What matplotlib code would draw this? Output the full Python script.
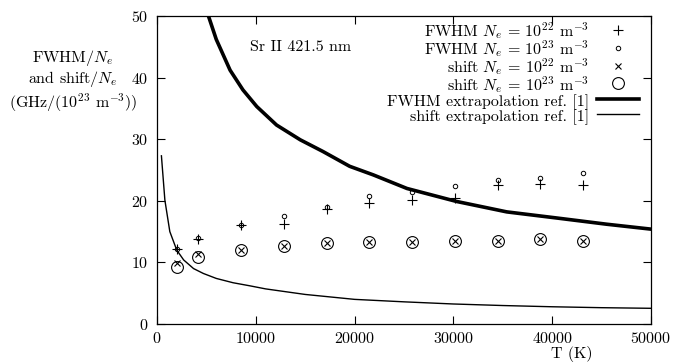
"""Sr II 421.5 nm — FWHM y shift vs T (estilo gnuplot/LaTeX)."""

import matplotlib
matplotlib.use("Agg")
import matplotlib.pyplot as plt

plt.rcParams["font.family"] = ["cmr10", "DejaVu Serif"]
plt.rcParams["mathtext.fontset"] = "cm"
plt.rcParams["axes.formatter.use_mathtext"] = True
plt.rcParams["font.size"] = 11.5

# puntos calculados
T_pts = [2000, 4200, 8500, 12900, 17200, 21500, 25800, 30200, 34500, 38800, 43100]
fwhm_22 = [12.1, 13.8, 16.0, 16.2, 18.7, 19.6, 20.2, 20.5, 22.5, 22.7, 22.5]
fwhm_23 = [12.2, 13.9, 16.1, 17.5, 19.0, 20.7, 21.5, 22.4, 23.4, 23.7, 24.5]
shift_22 = [9.9, 11.3, 12.0, 12.7, 13.2, 13.3, 13.3, 13.5, 13.5, 13.8, 13.5]
shift_23 = [9.3, 10.8, 12.0, 12.7, 13.2, 13.3, 13.3, 13.5, 13.5, 13.8, 13.5]

# extrapolaciones ref. [1]
T_fwhm_ext = [5000, 6000, 7400, 8700, 10100, 12100, 14500, 16800, 19500,
              21900, 25300, 30300, 35400, 40500, 45500, 50000]
fwhm_ext = [51.0, 46.2, 41.2, 38.0, 35.3, 32.3, 29.9, 28.0, 25.6,
            24.2, 22.0, 19.9, 18.2, 17.2, 16.2, 15.4]
T_shift_ext = [450, 800, 1300, 2000, 2700, 3700, 4700, 6000, 7700, 9400,
               11000, 15000, 20000, 25000, 30000, 35000, 40000, 45000, 50000]
shift_ext = [27.3, 20.1, 15.0, 12.0, 10.4, 9.0, 8.2, 7.4, 6.7, 6.2,
             5.7, 4.8, 4.0, 3.6, 3.25, 3.0, 2.8, 2.65, 2.55]

fig = plt.figure(figsize=(6.9, 3.63), dpi=100)
ax = fig.add_axes([0.2275, 0.1074, 0.716, 0.8486])

ax.plot(T_pts, fwhm_22, ls="none", marker="+", ms=7, mew=0.8, color="black",
        label=r"FWHM $N_e$ = $10^{22}$ m$^{-3}$")
ax.plot(T_pts, fwhm_23, ls="none", marker="o", ms=3.2, mew=0.7, mfc="none", color="black",
        label=r"FWHM $N_e$ = $10^{23}$ m$^{-3}$")
ax.plot(T_pts, shift_22, ls="none", marker="x", ms=5, mew=0.8, color="black",
        label=r"shift $N_e$ = $10^{22}$ m$^{-3}$")
ax.plot(T_pts, shift_23, ls="none", marker="o", ms=8.5, mew=0.8, mfc="none", color="black",
        label=r"shift $N_e$ = $10^{23}$ m$^{-3}$")
ax.plot(T_fwhm_ext, fwhm_ext, color="black", lw=2.6,
        label="FWHM extrapolation ref. [1]")
ax.plot(T_shift_ext, shift_ext, color="black", lw=1.0,
        label="shift extrapolation ref. [1]")

ax.set_xlim(0, 50000)
ax.set_ylim(0, 50)
ax.set_xticks(range(0, 50001, 10000))
ax.set_yticks(range(0, 51, 10))
ax.tick_params(direction="in", length=6, width=0.8, top=True, right=True)
ax.tick_params(axis="x", pad=5)
ax.tick_params(axis="y", pad=6)
for s in ax.spines.values():
    s.set_linewidth(0.9)

ax.set_ylabel("FWHM/$N_e$\nand shift/$N_e$\n(GHz/(10$^{23}$ m$^{-3}$))",
              rotation=0, ha="center", va="center", linespacing=1.12)
ax.yaxis.set_label_coords(-0.17, 0.79)
ax.set_xlabel("T (K)", va="top")
ax.xaxis.set_label_coords(0.84, -0.072)

ax.text(9400, 45, "Sr II 421.5 nm", va="center", ha="left")

ax.legend(loc="upper right", bbox_to_anchor=(0.975, 0.985), frameon=False,
          markerfirst=False, handlelength=2.6, handletextpad=0.5,
          handleheight=1.3, labelspacing=-0.2, borderpad=0.0, borderaxespad=0.0)

fig.savefig("out.png", dpi=100)
